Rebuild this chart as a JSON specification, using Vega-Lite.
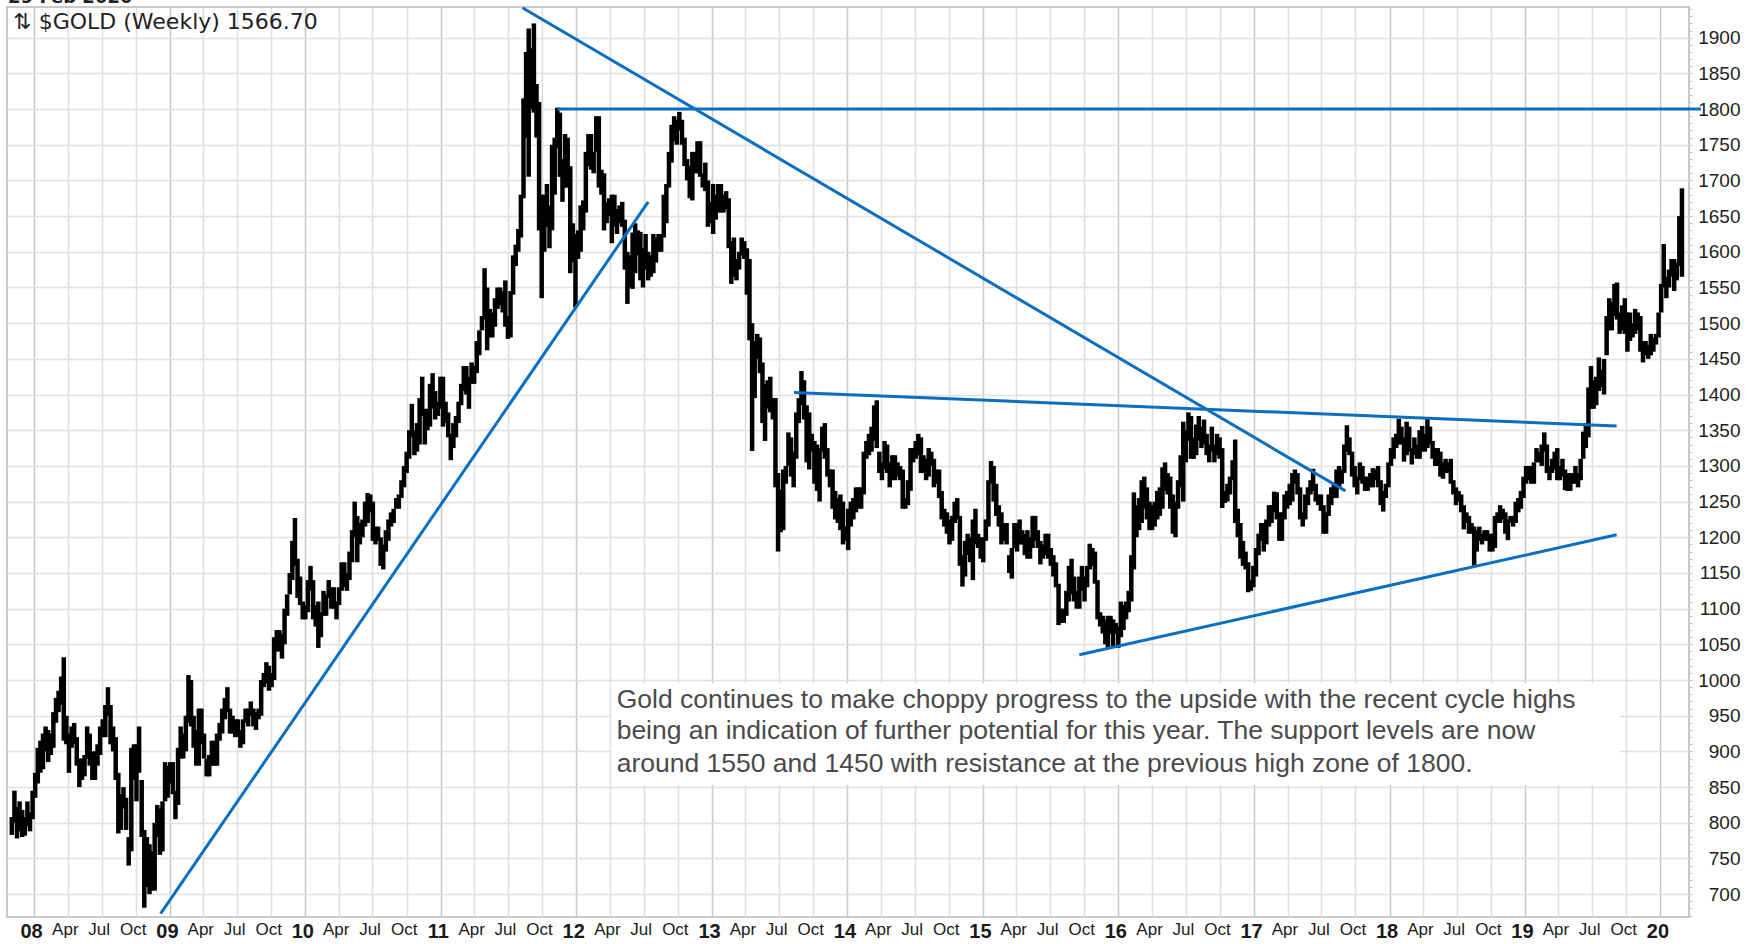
{
"$schema": "https://vega.github.io/schema/vega-lite/v6.json",
"width": 1682, "height": 910,
"autosize": {"type": "none"},
"padding": {"left": 7, "top": 7, "right": 69, "bottom": 27},
"background": "white",
"config": {"view": {"stroke": "#b8b8b8", "strokeWidth": 1.5}},
"datasets": {
"gold": [
{"d":"2007-11-02","l":783,"h":808},{"d":"2007-11-09","l":800,"h":845},{"d":"2007-11-16","l":778,"h":822},{"d":"2007-11-23","l":788,"h":830},{"d":"2007-11-30","l":780,"h":818},{"d":"2007-12-07","l":782,"h":808},{"d":"2007-12-14","l":795,"h":830},{"d":"2007-12-21","l":788,"h":815},{"d":"2007-12-28","l":805,"h":845},
{"d":"2008-01-04","l":835,"h":870},{"d":"2008-01-11","l":855,"h":905},{"d":"2008-01-18","l":870,"h":915},{"d":"2008-01-25","l":875,"h":925},{"d":"2008-02-01","l":900,"h":935},{"d":"2008-02-08","l":885,"h":930},{"d":"2008-02-15","l":895,"h":925},{"d":"2008-02-22","l":905,"h":955},{"d":"2008-02-29","l":940,"h":975},{"d":"2008-03-07","l":955,"h":985},{"d":"2008-03-14","l":965,"h":1005},{"d":"2008-03-21","l":915,"h":1032},{"d":"2008-03-28","l":910,"h":950},{"d":"2008-04-04","l":870,"h":925},{"d":"2008-04-11","l":905,"h":935},{"d":"2008-04-18","l":910,"h":940},{"d":"2008-04-25","l":880,"h":920},{"d":"2008-05-02","l":850,"h":890},{"d":"2008-05-09","l":860,"h":890},{"d":"2008-05-16","l":865,"h":895},{"d":"2008-05-23","l":890,"h":935},{"d":"2008-05-30","l":880,"h":925},{"d":"2008-06-06","l":860,"h":900},{"d":"2008-06-13","l":860,"h":900},{"d":"2008-06-20","l":880,"h":910},{"d":"2008-06-27","l":895,"h":935},{"d":"2008-07-04","l":920,"h":945},{"d":"2008-07-11","l":920,"h":965},{"d":"2008-07-18","l":950,"h":990},{"d":"2008-07-25","l":910,"h":965},{"d":"2008-08-01","l":900,"h":935},{"d":"2008-08-08","l":860,"h":920},{"d":"2008-08-15","l":785,"h":870},{"d":"2008-08-22","l":790,"h":840},{"d":"2008-08-29","l":820,"h":850},{"d":"2008-09-05","l":790,"h":835},{"d":"2008-09-12","l":740,"h":780},{"d":"2008-09-19","l":760,"h":905},{"d":"2008-09-26","l":860,"h":910},{"d":"2008-10-03","l":830,"h":910},{"d":"2008-10-10","l":870,"h":935},{"d":"2008-10-17","l":780,"h":860},{"d":"2008-10-24","l":681,"h":790},{"d":"2008-10-31","l":710,"h":780},{"d":"2008-11-07","l":700,"h":770},{"d":"2008-11-14","l":705,"h":760},{"d":"2008-11-21","l":705,"h":800},{"d":"2008-11-28","l":780,"h":825},{"d":"2008-12-05","l":755,"h":820},{"d":"2008-12-12","l":760,"h":830},{"d":"2008-12-19","l":830,"h":885},{"d":"2008-12-26","l":835,"h":880},
{"d":"2009-01-02","l":855,"h":885},{"d":"2009-01-09","l":840,"h":885},{"d":"2009-01-16","l":805,"h":845},{"d":"2009-01-23","l":825,"h":905},{"d":"2009-01-30","l":890,"h":935},{"d":"2009-02-06","l":890,"h":925},{"d":"2009-02-13","l":900,"h":950},{"d":"2009-02-20","l":940,"h":1007},{"d":"2009-02-27","l":935,"h":1000},{"d":"2009-03-06","l":905,"h":950},{"d":"2009-03-13","l":880,"h":930},{"d":"2009-03-20","l":880,"h":960},{"d":"2009-03-27","l":910,"h":960},{"d":"2009-04-03","l":890,"h":925},{"d":"2009-04-10","l":865,"h":890},{"d":"2009-04-17","l":865,"h":895},{"d":"2009-04-24","l":880,"h":915},{"d":"2009-05-01","l":880,"h":915},{"d":"2009-05-08","l":880,"h":925},{"d":"2009-05-15","l":915,"h":940},{"d":"2009-05-22","l":925,"h":960},{"d":"2009-05-29","l":945,"h":975},{"d":"2009-06-05","l":955,"h":990},{"d":"2009-06-12","l":925,"h":960},{"d":"2009-06-19","l":925,"h":950},{"d":"2009-06-26","l":920,"h":945},{"d":"2009-07-03","l":920,"h":945},{"d":"2009-07-10","l":905,"h":930},{"d":"2009-07-17","l":910,"h":945},{"d":"2009-07-24","l":940,"h":960},{"d":"2009-07-31","l":935,"h":960},{"d":"2009-08-07","l":950,"h":970},{"d":"2009-08-14","l":935,"h":960},{"d":"2009-08-21","l":930,"h":955},{"d":"2009-08-28","l":945,"h":960},{"d":"2009-09-04","l":950,"h":1000},{"d":"2009-09-11","l":990,"h":1010},{"d":"2009-09-18","l":995,"h":1025},{"d":"2009-09-25","l":985,"h":1020},{"d":"2009-10-02","l":990,"h":1010},{"d":"2009-10-09","l":1000,"h":1060},{"d":"2009-10-16","l":1040,"h":1070},{"d":"2009-10-23","l":1040,"h":1070},{"d":"2009-10-30","l":1030,"h":1065},{"d":"2009-11-06","l":1050,"h":1100},{"d":"2009-11-13","l":1090,"h":1120},{"d":"2009-11-20","l":1120,"h":1150},{"d":"2009-11-27","l":1140,"h":1195},{"d":"2009-12-04","l":1160,"h":1227},{"d":"2009-12-11","l":1115,"h":1170},{"d":"2009-12-18","l":1105,"h":1145},{"d":"2009-12-25","l":1085,"h":1110},
{"d":"2010-01-01","l":1085,"h":1105},{"d":"2010-01-08","l":1095,"h":1140},{"d":"2010-01-15","l":1125,"h":1160},{"d":"2010-01-22","l":1085,"h":1140},{"d":"2010-01-29","l":1075,"h":1105},{"d":"2010-02-05","l":1045,"h":1110},{"d":"2010-02-12","l":1060,"h":1095},{"d":"2010-02-19","l":1090,"h":1125},{"d":"2010-02-26","l":1090,"h":1120},{"d":"2010-03-05","l":1115,"h":1140},{"d":"2010-03-12","l":1100,"h":1130},{"d":"2010-03-19","l":1100,"h":1130},{"d":"2010-03-26","l":1085,"h":1110},{"d":"2010-04-02","l":1105,"h":1130},{"d":"2010-04-09","l":1125,"h":1165},{"d":"2010-04-16","l":1130,"h":1165},{"d":"2010-04-23","l":1125,"h":1150},{"d":"2010-04-30","l":1140,"h":1180},{"d":"2010-05-07","l":1165,"h":1210},{"d":"2010-05-14","l":1200,"h":1250},{"d":"2010-05-21","l":1165,"h":1230},{"d":"2010-05-28","l":1190,"h":1220},{"d":"2010-06-04","l":1200,"h":1225},{"d":"2010-06-11","l":1215,"h":1250},{"d":"2010-06-18","l":1220,"h":1262},{"d":"2010-06-25","l":1235,"h":1260},{"d":"2010-07-02","l":1195,"h":1250},{"d":"2010-07-09","l":1190,"h":1215},{"d":"2010-07-16","l":1195,"h":1215},{"d":"2010-07-23","l":1160,"h":1200},{"d":"2010-07-30","l":1155,"h":1190},{"d":"2010-08-06","l":1180,"h":1210},{"d":"2010-08-13","l":1195,"h":1225},{"d":"2010-08-20","l":1215,"h":1235},{"d":"2010-08-27","l":1220,"h":1240},{"d":"2010-09-03","l":1240,"h":1255},{"d":"2010-09-10","l":1240,"h":1260},{"d":"2010-09-17","l":1255,"h":1280},{"d":"2010-09-24","l":1270,"h":1300},{"d":"2010-10-01","l":1290,"h":1320},{"d":"2010-10-08","l":1310,"h":1350},{"d":"2010-10-15","l":1340,"h":1387},{"d":"2010-10-22","l":1315,"h":1350},{"d":"2010-10-29","l":1320,"h":1360},{"d":"2010-11-05","l":1330,"h":1395},{"d":"2010-11-12","l":1370,"h":1425},{"d":"2010-11-19","l":1330,"h":1380},{"d":"2010-11-26","l":1350,"h":1380},{"d":"2010-12-03","l":1355,"h":1415},{"d":"2010-12-10","l":1380,"h":1430},{"d":"2010-12-17","l":1365,"h":1405},{"d":"2010-12-24","l":1370,"h":1390},{"d":"2010-12-31","l":1380,"h":1425},
{"d":"2011-01-07","l":1355,"h":1425},{"d":"2011-01-14","l":1360,"h":1390},{"d":"2011-01-21","l":1340,"h":1375},{"d":"2011-01-28","l":1308,"h":1345},{"d":"2011-02-04","l":1325,"h":1360},{"d":"2011-02-11","l":1340,"h":1370},{"d":"2011-02-18","l":1360,"h":1390},{"d":"2011-02-25","l":1385,"h":1415},{"d":"2011-03-04","l":1405,"h":1440},{"d":"2011-03-11","l":1400,"h":1440},{"d":"2011-03-18","l":1380,"h":1425},{"d":"2011-03-25","l":1415,"h":1445},{"d":"2011-04-01","l":1415,"h":1440},{"d":"2011-04-08","l":1430,"h":1475},{"d":"2011-04-15","l":1455,"h":1490},{"d":"2011-04-22","l":1490,"h":1510},{"d":"2011-04-29","l":1505,"h":1577},{"d":"2011-05-06","l":1462,"h":1550},{"d":"2011-05-13","l":1480,"h":1520},{"d":"2011-05-20","l":1480,"h":1515},{"d":"2011-05-27","l":1495,"h":1535},{"d":"2011-06-03","l":1520,"h":1550},{"d":"2011-06-10","l":1525,"h":1550},{"d":"2011-06-17","l":1515,"h":1545},{"d":"2011-06-24","l":1495,"h":1560},{"d":"2011-07-01","l":1478,"h":1510},{"d":"2011-07-08","l":1480,"h":1545},{"d":"2011-07-15","l":1540,"h":1595},{"d":"2011-07-22","l":1580,"h":1610},{"d":"2011-07-29","l":1600,"h":1632},{"d":"2011-08-05","l":1620,"h":1680},{"d":"2011-08-12","l":1675,"h":1815},{"d":"2011-08-19","l":1760,"h":1880},{"d":"2011-08-26","l":1705,"h":1913},{"d":"2011-09-02","l":1800,"h":1885},{"d":"2011-09-09","l":1795,"h":1920},{"d":"2011-09-16","l":1760,"h":1835},{"d":"2011-09-23","l":1630,"h":1810},{"d":"2011-09-30","l":1535,"h":1680},{"d":"2011-10-07","l":1600,"h":1680},{"d":"2011-10-14","l":1635,"h":1695},{"d":"2011-10-21","l":1605,"h":1665},{"d":"2011-10-28","l":1630,"h":1750},{"d":"2011-11-04","l":1680,"h":1760},{"d":"2011-11-11","l":1745,"h":1802},{"d":"2011-11-18","l":1705,"h":1795},{"d":"2011-11-25","l":1670,"h":1730},{"d":"2011-12-02","l":1690,"h":1765},{"d":"2011-12-09","l":1690,"h":1760},{"d":"2011-12-16","l":1570,"h":1720},{"d":"2011-12-23","l":1585,"h":1640},{"d":"2011-12-30","l":1522,"h":1625},
{"d":"2012-01-06","l":1590,"h":1630},{"d":"2012-01-13","l":1600,"h":1665},{"d":"2012-01-20","l":1630,"h":1672},{"d":"2012-01-27","l":1655,"h":1740},{"d":"2012-02-03","l":1720,"h":1765},{"d":"2012-02-10","l":1715,"h":1765},{"d":"2012-02-17","l":1710,"h":1740},{"d":"2012-02-24","l":1740,"h":1790},{"d":"2012-03-02","l":1690,"h":1790},{"d":"2012-03-09","l":1680,"h":1715},{"d":"2012-03-16","l":1630,"h":1710},{"d":"2012-03-23","l":1640,"h":1670},{"d":"2012-03-30","l":1650,"h":1675},{"d":"2012-04-06","l":1612,"h":1680},{"d":"2012-04-13","l":1635,"h":1680},{"d":"2012-04-20","l":1625,"h":1660},{"d":"2012-04-27","l":1640,"h":1665},{"d":"2012-05-04","l":1635,"h":1670},{"d":"2012-05-11","l":1575,"h":1645},{"d":"2012-05-18","l":1527,"h":1600},{"d":"2012-05-25","l":1550,"h":1595},{"d":"2012-06-01","l":1548,"h":1627},{"d":"2012-06-08","l":1570,"h":1640},{"d":"2012-06-15","l":1595,"h":1630},{"d":"2012-06-22","l":1560,"h":1628},{"d":"2012-06-29","l":1550,"h":1605},{"d":"2012-07-06","l":1575,"h":1625},{"d":"2012-07-13","l":1560,"h":1600},{"d":"2012-07-20","l":1565,"h":1595},{"d":"2012-07-27","l":1570,"h":1625},{"d":"2012-08-03","l":1585,"h":1620},{"d":"2012-08-10","l":1600,"h":1625},{"d":"2012-08-17","l":1600,"h":1625},{"d":"2012-08-24","l":1620,"h":1680},{"d":"2012-08-31","l":1640,"h":1695},{"d":"2012-09-07","l":1690,"h":1740},{"d":"2012-09-14","l":1725,"h":1778},{"d":"2012-09-21","l":1755,"h":1790},{"d":"2012-09-28","l":1750,"h":1785},{"d":"2012-10-05","l":1770,"h":1796},{"d":"2012-10-12","l":1750,"h":1785},{"d":"2012-10-19","l":1720,"h":1760},{"d":"2012-10-26","l":1700,"h":1730},{"d":"2012-11-02","l":1675,"h":1720},{"d":"2012-11-09","l":1672,"h":1740},{"d":"2012-11-16","l":1710,"h":1740},{"d":"2012-11-23","l":1710,"h":1755},{"d":"2012-11-30","l":1705,"h":1755},{"d":"2012-12-07","l":1690,"h":1710},{"d":"2012-12-14","l":1685,"h":1725},{"d":"2012-12-21","l":1635,"h":1700},{"d":"2012-12-28","l":1640,"h":1670},
{"d":"2013-01-04","l":1625,"h":1695},{"d":"2013-01-11","l":1645,"h":1680},{"d":"2013-01-18","l":1655,"h":1695},{"d":"2013-01-25","l":1655,"h":1695},{"d":"2013-02-01","l":1655,"h":1680},{"d":"2013-02-08","l":1660,"h":1685},{"d":"2013-02-15","l":1605,"h":1675},{"d":"2013-02-22","l":1555,"h":1615},{"d":"2013-03-01","l":1565,"h":1620},{"d":"2013-03-08","l":1560,"h":1590},{"d":"2013-03-15","l":1575,"h":1600},{"d":"2013-03-22","l":1595,"h":1620},{"d":"2013-03-29","l":1590,"h":1615},{"d":"2013-04-05","l":1540,"h":1605},{"d":"2013-04-12","l":1476,"h":1590},{"d":"2013-04-19","l":1321,"h":1500},{"d":"2013-04-26","l":1395,"h":1475},{"d":"2013-05-03","l":1450,"h":1485},{"d":"2013-05-10","l":1430,"h":1480},{"d":"2013-05-17","l":1360,"h":1445},{"d":"2013-05-24","l":1335,"h":1415},{"d":"2013-05-31","l":1380,"h":1420},{"d":"2013-06-07","l":1375,"h":1425},{"d":"2013-06-14","l":1365,"h":1395},{"d":"2013-06-21","l":1270,"h":1395},{"d":"2013-06-28","l":1180,"h":1290},{"d":"2013-07-05","l":1207,"h":1267},{"d":"2013-07-12","l":1210,"h":1295},{"d":"2013-07-19","l":1275,"h":1300},{"d":"2013-07-26","l":1300,"h":1347},{"d":"2013-08-02","l":1285,"h":1340},{"d":"2013-08-09","l":1270,"h":1320},{"d":"2013-08-16","l":1310,"h":1375},{"d":"2013-08-23","l":1360,"h":1395},{"d":"2013-08-30","l":1385,"h":1433},{"d":"2013-09-06","l":1365,"h":1420},{"d":"2013-09-13","l":1305,"h":1385},{"d":"2013-09-20","l":1295,"h":1375},{"d":"2013-09-27","l":1320,"h":1345},{"d":"2013-10-04","l":1275,"h":1335},{"d":"2013-10-11","l":1265,"h":1330},{"d":"2013-10-18","l":1250,"h":1325},{"d":"2013-10-25","l":1320,"h":1355},{"d":"2013-11-01","l":1310,"h":1360},{"d":"2013-11-08","l":1285,"h":1325},{"d":"2013-11-15","l":1270,"h":1295},{"d":"2013-11-22","l":1240,"h":1295},{"d":"2013-11-29","l":1225,"h":1265},{"d":"2013-12-06","l":1220,"h":1255},{"d":"2013-12-13","l":1210,"h":1260},{"d":"2013-12-20","l":1190,"h":1250},{"d":"2013-12-27","l":1195,"h":1215},
{"d":"2014-01-03","l":1182,"h":1240},{"d":"2014-01-10","l":1215,"h":1250},{"d":"2014-01-17","l":1225,"h":1255},{"d":"2014-01-24","l":1235,"h":1270},{"d":"2014-01-31","l":1240,"h":1270},{"d":"2014-02-07","l":1240,"h":1270},{"d":"2014-02-14","l":1260,"h":1320},{"d":"2014-02-21","l":1310,"h":1335},{"d":"2014-02-28","l":1315,"h":1345},{"d":"2014-03-07","l":1320,"h":1355},{"d":"2014-03-14","l":1335,"h":1385},{"d":"2014-03-21","l":1325,"h":1392},{"d":"2014-03-28","l":1290,"h":1320},{"d":"2014-04-04","l":1280,"h":1305},{"d":"2014-04-11","l":1295,"h":1335},{"d":"2014-04-18","l":1290,"h":1330},{"d":"2014-04-25","l":1270,"h":1305},{"d":"2014-05-02","l":1280,"h":1315},{"d":"2014-05-09","l":1280,"h":1315},{"d":"2014-05-16","l":1285,"h":1305},{"d":"2014-05-23","l":1280,"h":1300},{"d":"2014-05-30","l":1240,"h":1295},{"d":"2014-06-06","l":1240,"h":1255},{"d":"2014-06-13","l":1245,"h":1280},{"d":"2014-06-20","l":1265,"h":1325},{"d":"2014-06-27","l":1305,"h":1325},{"d":"2014-07-04","l":1310,"h":1335},{"d":"2014-07-11","l":1315,"h":1345},{"d":"2014-07-18","l":1290,"h":1340},{"d":"2014-07-25","l":1290,"h":1315},{"d":"2014-08-01","l":1280,"h":1310},{"d":"2014-08-08","l":1285,"h":1325},{"d":"2014-08-15","l":1300,"h":1320},{"d":"2014-08-22","l":1270,"h":1310},{"d":"2014-08-29","l":1275,"h":1295},{"d":"2014-09-05","l":1255,"h":1295},{"d":"2014-09-12","l":1225,"h":1265},{"d":"2014-09-19","l":1215,"h":1240},{"d":"2014-09-26","l":1205,"h":1235},{"d":"2014-10-03","l":1190,"h":1225},{"d":"2014-10-10","l":1195,"h":1230},{"d":"2014-10-17","l":1220,"h":1250},{"d":"2014-10-24","l":1225,"h":1255},{"d":"2014-10-31","l":1160,"h":1230},{"d":"2014-11-07","l":1131,"h":1175},{"d":"2014-11-14","l":1145,"h":1195},{"d":"2014-11-21","l":1175,"h":1205},{"d":"2014-11-28","l":1165,"h":1200},{"d":"2014-12-05","l":1140,"h":1225},{"d":"2014-12-12","l":1190,"h":1240},{"d":"2014-12-19","l":1185,"h":1205},{"d":"2014-12-26","l":1170,"h":1200},
{"d":"2015-01-02","l":1165,"h":1200},{"d":"2015-01-09","l":1195,"h":1225},{"d":"2015-01-16","l":1215,"h":1280},{"d":"2015-01-23","l":1275,"h":1307},{"d":"2015-01-30","l":1250,"h":1300},{"d":"2015-02-06","l":1230,"h":1275},{"d":"2015-02-13","l":1215,"h":1245},{"d":"2015-02-20","l":1190,"h":1235},{"d":"2015-02-27","l":1195,"h":1220},{"d":"2015-03-06","l":1190,"h":1220},{"d":"2015-03-13","l":1150,"h":1175},{"d":"2015-03-20","l":1142,"h":1185},{"d":"2015-03-27","l":1185,"h":1220},{"d":"2015-04-03","l":1180,"h":1220},{"d":"2015-04-10","l":1190,"h":1225},{"d":"2015-04-17","l":1190,"h":1210},{"d":"2015-04-24","l":1175,"h":1205},{"d":"2015-05-01","l":1170,"h":1210},{"d":"2015-05-08","l":1170,"h":1200},{"d":"2015-05-15","l":1185,"h":1230},{"d":"2015-05-22","l":1195,"h":1230},{"d":"2015-05-29","l":1185,"h":1210},{"d":"2015-06-05","l":1162,"h":1195},{"d":"2015-06-12","l":1170,"h":1190},{"d":"2015-06-19","l":1175,"h":1205},{"d":"2015-06-26","l":1170,"h":1205},{"d":"2015-07-03","l":1160,"h":1185},{"d":"2015-07-10","l":1145,"h":1175},{"d":"2015-07-17","l":1130,"h":1165},{"d":"2015-07-24","l":1077,"h":1135},{"d":"2015-07-31","l":1080,"h":1100},{"d":"2015-08-07","l":1080,"h":1100},{"d":"2015-08-14","l":1090,"h":1125},{"d":"2015-08-21","l":1110,"h":1160},{"d":"2015-08-28","l":1120,"h":1170},{"d":"2015-09-04","l":1110,"h":1145},{"d":"2015-09-11","l":1100,"h":1125},{"d":"2015-09-18","l":1100,"h":1145},{"d":"2015-09-25","l":1125,"h":1160},{"d":"2015-10-02","l":1110,"h":1145},{"d":"2015-10-09","l":1130,"h":1160},{"d":"2015-10-16","l":1155,"h":1191},{"d":"2015-10-23","l":1160,"h":1185},{"d":"2015-10-30","l":1135,"h":1180},{"d":"2015-11-06","l":1085,"h":1140},{"d":"2015-11-13","l":1075,"h":1095},{"d":"2015-11-20","l":1065,"h":1090},{"d":"2015-11-27","l":1050,"h":1085},{"d":"2015-12-04","l":1045,"h":1090},{"d":"2015-12-11","l":1065,"h":1090},{"d":"2015-12-18","l":1046,"h":1085},{"d":"2015-12-25","l":1065,"h":1080},
{"d":"2016-01-01","l":1045,"h":1075},{"d":"2016-01-08","l":1060,"h":1110},{"d":"2016-01-15","l":1070,"h":1105},{"d":"2016-01-22","l":1085,"h":1110},{"d":"2016-01-29","l":1095,"h":1125},{"d":"2016-02-05","l":1110,"h":1175},{"d":"2016-02-12","l":1155,"h":1263},{"d":"2016-02-19","l":1200,"h":1245},{"d":"2016-02-26","l":1210,"h":1255},{"d":"2016-03-04","l":1220,"h":1280},{"d":"2016-03-11","l":1240,"h":1285},{"d":"2016-03-18","l":1225,"h":1270},{"d":"2016-03-25","l":1210,"h":1250},{"d":"2016-04-01","l":1210,"h":1245},{"d":"2016-04-08","l":1215,"h":1250},{"d":"2016-04-15","l":1225,"h":1265},{"d":"2016-04-22","l":1230,"h":1270},{"d":"2016-04-29","l":1240,"h":1298},{"d":"2016-05-06","l":1265,"h":1305},{"d":"2016-05-13","l":1260,"h":1290},{"d":"2016-05-20","l":1240,"h":1285},{"d":"2016-05-27","l":1205,"h":1260},{"d":"2016-06-03","l":1200,"h":1250},{"d":"2016-06-10","l":1240,"h":1280},{"d":"2016-06-17","l":1270,"h":1315},{"d":"2016-06-24","l":1250,"h":1362},{"d":"2016-07-01","l":1305,"h":1350},{"d":"2016-07-08","l":1335,"h":1375},{"d":"2016-07-15","l":1310,"h":1370},{"d":"2016-07-22","l":1310,"h":1340},{"d":"2016-07-29","l":1315,"h":1358},{"d":"2016-08-05","l":1335,"h":1370},{"d":"2016-08-12","l":1325,"h":1355},{"d":"2016-08-19","l":1330,"h":1365},{"d":"2016-08-26","l":1315,"h":1345},{"d":"2016-09-02","l":1305,"h":1330},{"d":"2016-09-09","l":1320,"h":1355},{"d":"2016-09-16","l":1305,"h":1330},{"d":"2016-09-23","l":1315,"h":1345},{"d":"2016-09-30","l":1310,"h":1340},{"d":"2016-10-07","l":1241,"h":1325},{"d":"2016-10-14","l":1248,"h":1265},{"d":"2016-10-21","l":1250,"h":1275},{"d":"2016-10-28","l":1260,"h":1285},{"d":"2016-11-04","l":1280,"h":1308},{"d":"2016-11-11","l":1220,"h":1337},{"d":"2016-11-18","l":1200,"h":1240},{"d":"2016-11-25","l":1170,"h":1220},{"d":"2016-12-02","l":1160,"h":1195},{"d":"2016-12-09","l":1155,"h":1180},{"d":"2016-12-16","l":1123,"h":1165},{"d":"2016-12-23","l":1125,"h":1140},{"d":"2016-12-30","l":1130,"h":1160},
{"d":"2017-01-06","l":1145,"h":1185},{"d":"2017-01-13","l":1175,"h":1205},{"d":"2017-01-20","l":1195,"h":1220},{"d":"2017-01-27","l":1180,"h":1220},{"d":"2017-02-03","l":1190,"h":1225},{"d":"2017-02-10","l":1215,"h":1245},{"d":"2017-02-17","l":1220,"h":1245},{"d":"2017-02-24","l":1235,"h":1264},{"d":"2017-03-03","l":1225,"h":1263},{"d":"2017-03-10","l":1195,"h":1235},{"d":"2017-03-17","l":1195,"h":1235},{"d":"2017-03-24","l":1225,"h":1260},{"d":"2017-03-31","l":1240,"h":1265},{"d":"2017-04-07","l":1245,"h":1275},{"d":"2017-04-14","l":1250,"h":1290},{"d":"2017-04-21","l":1275,"h":1295},{"d":"2017-04-28","l":1260,"h":1290},{"d":"2017-05-05","l":1225,"h":1270},{"d":"2017-05-12","l":1215,"h":1235},{"d":"2017-05-19","l":1225,"h":1260},{"d":"2017-05-26","l":1245,"h":1270},{"d":"2017-06-02","l":1260,"h":1280},{"d":"2017-06-09","l":1265,"h":1296},{"d":"2017-06-16","l":1250,"h":1275},{"d":"2017-06-23","l":1245,"h":1260},{"d":"2017-06-30","l":1237,"h":1260},{"d":"2017-07-07","l":1205,"h":1245},{"d":"2017-07-14","l":1205,"h":1235},{"d":"2017-07-21","l":1230,"h":1260},{"d":"2017-07-28","l":1245,"h":1270},{"d":"2017-08-04","l":1255,"h":1275},{"d":"2017-08-11","l":1255,"h":1295},{"d":"2017-08-18","l":1270,"h":1300},{"d":"2017-08-25","l":1275,"h":1295},{"d":"2017-09-01","l":1290,"h":1330},{"d":"2017-09-08","l":1320,"h":1357},{"d":"2017-09-15","l":1315,"h":1340},{"d":"2017-09-22","l":1285,"h":1320},{"d":"2017-09-29","l":1270,"h":1300},{"d":"2017-10-06","l":1260,"h":1285},{"d":"2017-10-13","l":1280,"h":1305},{"d":"2017-10-20","l":1275,"h":1300},{"d":"2017-10-27","l":1265,"h":1285},{"d":"2017-11-03","l":1265,"h":1285},{"d":"2017-11-10","l":1270,"h":1290},{"d":"2017-11-17","l":1270,"h":1297},{"d":"2017-11-24","l":1280,"h":1295},{"d":"2017-12-01","l":1270,"h":1300},{"d":"2017-12-08","l":1245,"h":1280},{"d":"2017-12-15","l":1236,"h":1265},{"d":"2017-12-22","l":1255,"h":1275},{"d":"2017-12-29","l":1270,"h":1305},
{"d":"2018-01-05","l":1300,"h":1325},{"d":"2018-01-12","l":1310,"h":1340},{"d":"2018-01-19","l":1325,"h":1345},{"d":"2018-01-26","l":1330,"h":1366},{"d":"2018-02-02","l":1330,"h":1355},{"d":"2018-02-09","l":1306,"h":1340},{"d":"2018-02-16","l":1315,"h":1362},{"d":"2018-02-23","l":1320,"h":1355},{"d":"2018-03-02","l":1302,"h":1325},{"d":"2018-03-09","l":1315,"h":1340},{"d":"2018-03-16","l":1310,"h":1330},{"d":"2018-03-23","l":1310,"h":1350},{"d":"2018-03-30","l":1320,"h":1356},{"d":"2018-04-06","l":1320,"h":1345},{"d":"2018-04-13","l":1325,"h":1366},{"d":"2018-04-20","l":1330,"h":1355},{"d":"2018-04-27","l":1310,"h":1335},{"d":"2018-05-04","l":1300,"h":1325},{"d":"2018-05-11","l":1300,"h":1325},{"d":"2018-05-18","l":1285,"h":1320},{"d":"2018-05-25","l":1282,"h":1305},{"d":"2018-06-01","l":1290,"h":1310},{"d":"2018-06-08","l":1290,"h":1305},{"d":"2018-06-15","l":1275,"h":1310},{"d":"2018-06-22","l":1260,"h":1280},{"d":"2018-06-29","l":1245,"h":1270},{"d":"2018-07-06","l":1250,"h":1265},{"d":"2018-07-13","l":1235,"h":1260},{"d":"2018-07-20","l":1211,"h":1245},{"d":"2018-07-27","l":1220,"h":1235},{"d":"2018-08-03","l":1205,"h":1230},{"d":"2018-08-10","l":1205,"h":1220},{"d":"2018-08-17","l":1160,"h":1215},{"d":"2018-08-24","l":1180,"h":1210},{"d":"2018-08-31","l":1195,"h":1215},{"d":"2018-09-07","l":1190,"h":1205},{"d":"2018-09-14","l":1195,"h":1210},{"d":"2018-09-21","l":1195,"h":1210},{"d":"2018-09-28","l":1180,"h":1205},{"d":"2018-10-05","l":1180,"h":1205},{"d":"2018-10-12","l":1185,"h":1230},{"d":"2018-10-19","l":1220,"h":1235},{"d":"2018-10-26","l":1220,"h":1245},{"d":"2018-11-02","l":1225,"h":1240},{"d":"2018-11-09","l":1205,"h":1235},{"d":"2018-11-16","l":1196,"h":1225},{"d":"2018-11-23","l":1220,"h":1230},{"d":"2018-11-30","l":1215,"h":1230},{"d":"2018-12-07","l":1220,"h":1250},{"d":"2018-12-14","l":1235,"h":1255},{"d":"2018-12-21","l":1240,"h":1265},{"d":"2018-12-28","l":1255,"h":1285},
{"d":"2019-01-04","l":1275,"h":1300},{"d":"2019-01-11","l":1280,"h":1300},{"d":"2019-01-18","l":1275,"h":1300},{"d":"2019-01-25","l":1275,"h":1305},{"d":"2019-02-01","l":1305,"h":1325},{"d":"2019-02-08","l":1305,"h":1320},{"d":"2019-02-15","l":1300,"h":1330},{"d":"2019-02-22","l":1320,"h":1347},{"d":"2019-03-01","l":1290,"h":1330},{"d":"2019-03-08","l":1280,"h":1300},{"d":"2019-03-15","l":1290,"h":1310},{"d":"2019-03-22","l":1295,"h":1320},{"d":"2019-03-29","l":1280,"h":1325},{"d":"2019-04-05","l":1280,"h":1300},{"d":"2019-04-12","l":1285,"h":1310},{"d":"2019-04-19","l":1266,"h":1295},{"d":"2019-04-26","l":1265,"h":1290},{"d":"2019-05-03","l":1265,"h":1290},{"d":"2019-05-10","l":1275,"h":1290},{"d":"2019-05-17","l":1275,"h":1300},{"d":"2019-05-24","l":1270,"h":1290},{"d":"2019-05-31","l":1280,"h":1310},{"d":"2019-06-07","l":1310,"h":1348},{"d":"2019-06-14","l":1325,"h":1360},{"d":"2019-06-21","l":1340,"h":1410},{"d":"2019-06-28","l":1380,"h":1440},{"d":"2019-07-05","l":1380,"h":1420},{"d":"2019-07-12","l":1385,"h":1425},{"d":"2019-07-19","l":1405,"h":1452},{"d":"2019-07-26","l":1410,"h":1435},{"d":"2019-08-02","l":1400,"h":1450},{"d":"2019-08-09","l":1455,"h":1510},{"d":"2019-08-16","l":1490,"h":1535},{"d":"2019-08-23","l":1490,"h":1530},{"d":"2019-08-30","l":1510,"h":1555},{"d":"2019-09-06","l":1505,"h":1557},{"d":"2019-09-13","l":1485,"h":1515},{"d":"2019-09-20","l":1490,"h":1525},{"d":"2019-09-27","l":1485,"h":1535},{"d":"2019-10-04","l":1460,"h":1515},{"d":"2019-10-11","l":1475,"h":1515},{"d":"2019-10-18","l":1480,"h":1500},{"d":"2019-10-25","l":1485,"h":1520},{"d":"2019-11-01","l":1490,"h":1515},{"d":"2019-11-08","l":1460,"h":1510},{"d":"2019-11-15","l":1445,"h":1475},{"d":"2019-11-22","l":1455,"h":1475},{"d":"2019-11-29","l":1450,"h":1470},{"d":"2019-12-06","l":1455,"h":1485},{"d":"2019-12-13","l":1460,"h":1480},{"d":"2019-12-20","l":1470,"h":1485},{"d":"2019-12-27","l":1480,"h":1515},
{"d":"2020-01-03","l":1515,"h":1555},{"d":"2020-01-10","l":1550,"h":1611},{"d":"2020-01-17","l":1535,"h":1565},{"d":"2020-01-24","l":1550,"h":1575},{"d":"2020-01-31","l":1565,"h":1590},{"d":"2020-02-07","l":1545,"h":1590},{"d":"2020-02-14","l":1560,"h":1585},{"d":"2020-02-21","l":1580,"h":1650},{"d":"2020-02-28","l":1565,"h":1689}
],
"trend": [
{"s":"a","d":"2008-12-07","v":672.6},{"s":"a","d":"2012-07-13","v":1670},
{"s":"b","d":"2011-08-09","v":1942},{"s":"b","d":"2017-09-04","v":1265},
{"s":"c","d":"2011-11-11","v":1800},{"s":"c","d":"2020-04-19","v":1800},
{"s":"d","d":"2013-08-10","v":1403},{"s":"d","d":"2019-09-05","v":1356},
{"s":"e","d":"2015-09-18","v":1035.5},{"s":"e","d":"2019-09-05","v":1203.6}
],
"box": [{"d":"2012-04-05","d2":"2019-09-13","v":853,"v2":995}],
"note": [
{"d":"2012-04-19","v":972,"t":"Gold continues to make choppy progress to the upside with the recent cycle highs"},
{"d":"2012-04-19","v":928.5,"t":"being an indication of further potential for this year. The support levels are now"},
{"d":"2012-04-19","v":883,"t":"around 1550 and 1450 with resistance at the previous high zone of 1800."}
],
"head": [{"d":"2007-11-06","v":1922,"t":"⇅ $GOLD (Weekly) 1566.70"}],
"stamp": [{"d":"2007-10-23","v":1948,"t":"29 Feb 2020"}]
},
"layer": [
{"data": {"name": "box"},
 "mark": {"type": "rect", "fill": "white", "stroke": null},
 "encoding": {
  "x": {"field": "d", "type": "temporal", "title": null},
  "x2": {"field": "d2"},
  "y": {"field": "v", "type": "quantitative", "title": null},
  "y2": {"field": "v2"}
 }},
{"data": {"name": "gold"},
 "mark": {"type": "rule", "color": "black", "strokeWidth": 4.5},
 "encoding": {
  "x": {"field": "d", "type": "temporal", "title": null,
   "scale": {"type": "utc", "domain": ["2007-10-20", "2020-03-18"], "nice": false},
   "axis": {"title": null, "tickCount": {"interval": "month", "step": 3}, "ticks": false, "domain": false,
    "labelExpr": "utcmonth(datum.value) === 0 ? utcFormat(datum.value, '%y') : utcFormat(datum.value, '%b')",
    "labelFont": "Liberation Sans",
    "labelFontSize": {"condition": {"test": "utcmonth(datum.value) === 0", "value": 20}, "value": 17},
    "labelFontWeight": {"condition": {"test": "utcmonth(datum.value) === 0", "value": "bold"}, "value": "normal"},
    "labelColor": "#1a1a1a", "labelPadding": 4, "labelOffset": -3,
    "labelOverlap": false, "labelFlush": false, "labelBound": false,
    "gridColor": {"condition": {"test": "utcmonth(datum.value) === 0", "value": "#c8c8c8"}, "value": "#e0e0e0"},
    "gridWidth": 1.5}},
  "y": {"field": "l", "type": "quantitative", "title": null,
   "scale": {"domain": [668, 1943], "nice": false, "zero": false},
   "axis": {"title": null, "orient": "right", "tickCount": 128,
    "labelExpr": "datum.value % 50 === 0 ? format(datum.value, 'd') : ''",
    "gridOpacity": {"condition": {"test": "datum.value % 50 === 0", "value": 1}, "value": 0},
    "gridColor": "#e0e0e0", "gridWidth": 1.5,
    "ticks": true, "tickSize": 3, "tickColor": "#c4c4c4", "tickWidth": 1, "domain": false,
    "labelAlign": "right", "labelPadding": 48,
    "labelFont": "Liberation Sans", "labelFontSize": 19, "labelColor": "#222222",
    "labelOverlap": false, "labelFlush": false, "labelBound": false}},
  "y2": {"field": "h"}
 }},
{"data": {"name": "trend"},
 "mark": {"type": "line", "color": "#0a6fc0", "strokeWidth": 3, "clip": false},
 "encoding": {
  "x": {"field": "d", "type": "temporal", "title": null},
  "y": {"field": "v", "type": "quantitative", "title": null},
  "detail": {"field": "s"}
 }},
{"data": {"name": "note"},
 "mark": {"type": "text", "align": "left", "baseline": "middle", "font": "Liberation Sans", "fontSize": 26.5, "color": "#4a4a4a"},
 "encoding": {
  "x": {"field": "d", "type": "temporal", "title": null},
  "y": {"field": "v", "type": "quantitative", "title": null},
  "text": {"field": "t"}
 }},
{"data": {"name": "head"},
 "mark": {"type": "text", "align": "left", "baseline": "middle", "font": "DejaVu Sans", "fontSize": 22, "color": "#222222"},
 "encoding": {
  "x": {"field": "d", "type": "temporal", "title": null},
  "y": {"field": "v", "type": "quantitative", "title": null},
  "text": {"field": "t"}
 }},
{"data": {"name": "stamp"},
 "mark": {"type": "text", "align": "left", "baseline": "alphabetic", "font": "DejaVu Sans", "fontSize": 18, "fontWeight": "bold", "color": "#222222", "clip": false},
 "encoding": {
  "x": {"field": "d", "type": "temporal", "title": null},
  "y": {"field": "v", "type": "quantitative", "title": null},
  "text": {"field": "t"}
 }}
]
}
